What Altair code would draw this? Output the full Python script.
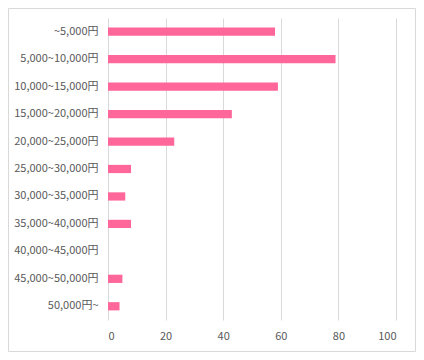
import altair as alt
import pandas as pd

categories = ["~5,000円", "5,000~10,000円", "10,000~15,000円", "15,000~20,000円",
              "20,000~25,000円", "25,000~30,000円", "30,000~35,000円", "35,000~40,000円",
              "40,000~45,000円", "45,000~50,000円", "50,000円~"]
values = [58, 79, 59, 43, 23, 8, 6, 8, 0, 5, 4]
x_ticks = [0, 20, 40, 60, 80, 100]

df = pd.DataFrame({"cat": categories, "val": values})
FONT = "Noto Sans CJK JP"

bars = alt.Chart(df).mark_bar(color="#FF6699").encode(
    y=alt.Y("cat:N", sort=None, title=None,
             scale=alt.Scale(paddingInner=0.7, paddingOuter=0.35),
             axis=alt.Axis(ticks=False, domain=False, labelPadding=10, labelFontSize=11,
                           labelColor="#595959", labelFont=FONT)),
    x=alt.X("val:Q", title=None,
             scale=alt.Scale(domain=[0, 100], nice=False),
             axis=alt.Axis(values=x_ticks, ticks=False, domain=False, labelPadding=10,
                           labelFontSize=11, labelColor="#595959", labelFont=FONT,
                           grid=True, gridColor="#D9D9D9", gridWidth=1)),
)

border = alt.Chart(alt.Data(values=[{"a": 1}])).mark_rect(
    filled=False, stroke="#D9D9D9", strokeWidth=1
).encode(
    x=alt.value(-99.5), x2=alt.value(307.5), y=alt.value(-9.5), y2=alt.value(333.5)
)

chart = alt.layer(border, bars).properties(
    width=288, height=302,
    autosize=alt.AutoSizeParams(type="none"),
    padding={"left": 100, "top": 10, "right": 20, "bottom": 32},
).configure_view(stroke=None)

chart.save("out.html", embed_options={"renderer": "svg", "actions": False})
